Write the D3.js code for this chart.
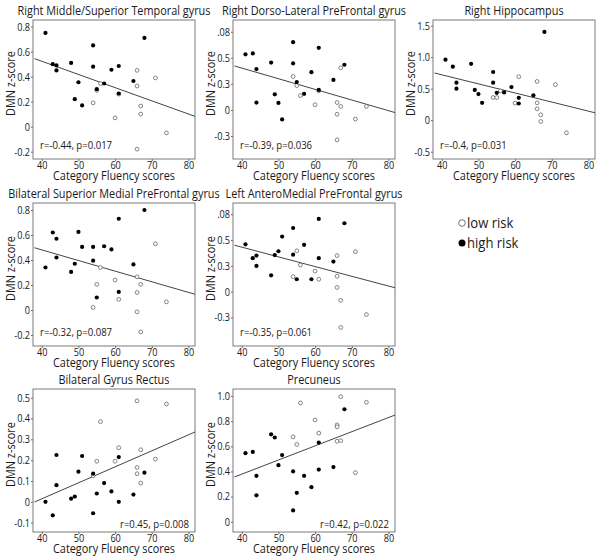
<!DOCTYPE html>
<html>
<head>
<meta charset="utf-8">
<script src="https://cdn.jsdelivr.net/npm/d3@7"></script>
<style>
  body { margin: 0; background: #fff; }
  text { font-family: "Open Sans", "Noto Sans", sans-serif; fill: #1a1a1a; }
</style>
</head>
<body>
<script>
// subjects (category fluency score), same for every region
var highX = [41, 43, 44, 44, 48, 49, 50, 51, 54, 54, 55, 57, 59, 61, 61, 65, 68];
var lowX = [54, 55, 56, 60, 61, 66, 66, 66, 67, 67, 71, 74];

var titles = ["Right Middle/Superior Temporal gyrus", "Right Dorso-Lateral PreFrontal gyrus", "Right Hippocampus",
    "Bilateral Superior Medial PreFrontal gyrus", "Left AnteroMedial PreFrontal gyrus",
    "Bilateral Gyrus Rectus", "Precuneus"];
var stats = ["r=-0.44, p=0.017", "r=-0.39, p=0.036", "r=-0.4, p=0.031", "r=-0.32, p=0.087",
    "r=-0.35, p=0.061", "r=0.45, p=0.008", "r=0.42, p=0.022"];

// DMN z-scores, high risk (order of highX) and low risk (order of lowX)
var highY = [
    [0.75, 0.50, 0.49, 0.45, 0.51, 0.22, 0.355, 0.17, 0.65, 0.48, 0.30, 0.345, 0.455, 0.485, 0.265, 0.365, 0.71],
    [0.64, 0.65, 0.47, 0.085, 0.545, 0.18, 0.08, -0.11, 0.78, 0.535, 0.32, 0.185, 0.435, 0.715, 0.23, 0.345, 0.52],
    [0.96, 0.85, 0.595, 0.50, 0.895, 0.48, 0.415, 0.275, 0.765, 0.595, 0.435, 0.44, 0.525, 0.355, 0.265, 0.395, 1.40],
    [0.34, 0.62, 0.57, 0.42, 0.305, 0.37, 0.625, 0.505, 0.505, 0.395, 0.10, 0.51, 0.485, 0.73, 0.145, 0.365, 0.80],
    [0.55, 0.39, 0.42, 0.30, 0.19, 0.425, 0.47, 0.64, 0.74, 0.43, 0.145, 0.545, 0.145, 0.845, 0.39, 0.35, 0.795],
    [0.0, -0.065, 0.225, 0.08, 0.015, 0.025, 0.145, 0.22, 0.135, -0.055, 0.04, 0.09, 0.05, 0.215, 0.0, 0.035, 0.14],
    [0.545, 0.555, 0.365, 0.21, 0.695, 0.67, 0.45, 0.53, 0.40, 0.09, 0.23, 0.365, 0.275, 0.63, 0.415, 0.435, 0.895]
];
var lowY = [
    [0.19, 0.29, 0.345, 0.07, 0.26, 0.45, 0.325, -0.18, 0.165, 0.10, 0.39, -0.05],
    [0.385, 0.28, 0.165, 0.06, 0.22, 0.085, -0.05, -0.345, 0.485, 0.04, -0.105, 0.04],
    [0.36, 0.36, 0.465, 0.27, 0.69, 0.615, 0.275, 0.18, 0.085, -0.02, 0.565, -0.20],
    [0.02, 0.205, 0.34, 0.24, 0.085, 0.265, 0.14, -0.015, 0.205, -0.175, 0.53, 0.065],
    [0.175, 0.475, 0.31, 0.24, 0.145, 0.42, 0.18, 0.05, -0.10, -0.415, 0.465, -0.265],
    [0.125, 0.195, 0.385, 0.195, 0.26, 0.485, 0.165, 0.135, 0.25, 0.09, 0.205, 0.47],
    [0.675, 0.615, 0.945, 0.81, 0.705, 0.77, 0.755, 0.64, 0.995, 0.645, 0.39, 0.95]
];

// fitted line: z-score at fluency 38 and at 82
var fitX = [38, 82];
var fitY = [[0.544, 0.080], [0.506, -0.033], [0.749, 0.115], [0.498, 0.124],
    [0.540, 0.044], [-0.001, 0.337], [0.356, 0.851]];

var xTicks = [40, 50, 60, 70, 80];
var yTicks = [
    [-0.2, 0, 0.2, 0.4, 0.6, 0.8],
    [-0.3, 0, 0.3, 0.6, 0.9],
    [-0.5, 0, 0.5, 1.0, 1.5],
    [-0.2, 0, 0.2, 0.4, 0.6, 0.8],
    [-0.3, 0, 0.3, 0.6, 0.9],
    [-0.1, 0, 0.1, 0.2, 0.3, 0.4, 0.5],
    [0, 0.2, 0.4, 0.6, 0.8, 1.0]
];
var yTickLabels = [
    ["-0.2", "0", "0.2", "0.4", "0.6", "0.8"],
    ["-0.3", "0", "0.3", "0.5", ".08"],
    ["-0.5", "0", "0.5", "1.0", "1.5"],
    ["-0.2", "0", "0.2", "0.4", "0.6", "0.8"],
    ["-0.3", "0", "0.3", "0.5", ".08"],
    ["-0.1", "0", "0.1", "0.2", "0.3", "0.4", "0.5"],
    ["0", "0.2", "0.4", "0.6", "0.8", "1.0"]
];
var yDomains = [[-0.259, 0.853], [-0.565, 1.035], [-0.616, 1.59], [-0.288, 0.856],
    [-0.63, 1.03], [-0.145, 0.542], [-0.082, 1.056]];

// layout
var W = 601, H = 557;
var colLeft = [33, 233, 433], plotW = 162;
var rowTop = [20, 203, 389], rowH = [139, 143, 143];
var cells = [[0, 0], [1, 0], [2, 0], [0, 1], [1, 1], [0, 2], [1, 2]];

var svg = d3.select("body").append("svg")
    .attr("width", W)
    .attr("height", H);

var xScale = d3.scaleLinear().domain([37.6, 81.8]).range([0, plotW]);

cells.forEach(function (c, i) {
    var h = rowH[c[1]];
    var g = svg.append("g")
        .attr("transform", "translate(" + colLeft[c[0]] + "," + rowTop[c[1]] + ")");

    var yScale = d3.scaleLinear().domain(yDomains[i]).range([h, 0]);

    g.append("clipPath").attr("id", "clip" + i)
        .append("rect").attr("width", plotW).attr("height", h);

    // axes
    var xa = g.append("g")
        .attr("transform", "translate(0," + h + ")")
        .call(d3.axisBottom(xScale).tickValues(xTicks).tickSize(2).tickPadding(1).tickFormat(d3.format("d")));
    var labels = yTickLabels[i];
    var ya = g.append("g")
        .call(d3.axisLeft(yScale).tickValues(yTicks[i]).tickSize(2).tickPadding(1)
            .tickFormat(function (d, k) { return labels[k]; }));
    [xa, ya].forEach(function (a) {
        a.select(".domain").remove();
        a.selectAll("line").attr("stroke", "#666");
        a.selectAll("text").style("font-size", "10.5px").attr("fill", "#1a1a1a");
    });

    // frame
    g.append("rect")
        .attr("width", plotW).attr("height", h)
        .attr("fill", "none").attr("stroke", "#7a7a7a").attr("stroke-width", 1);

    // regression line
    g.append("line")
        .attr("clip-path", "url(#clip" + i + ")")
        .attr("x1", xScale(fitX[0])).attr("y1", yScale(fitY[i][0]))
        .attr("x2", xScale(fitX[1])).attr("y2", yScale(fitY[i][1]))
        .attr("stroke", "#444").attr("stroke-width", 1);

    // low risk, open circles
    g.selectAll(".lo").data(lowY[i]).enter().append("circle")
        .attr("cx", function (d, k) { return xScale(lowX[k]); })
        .attr("cy", function (d) { return yScale(d); })
        .attr("r", 1.9)
        .attr("fill", "#fff").attr("stroke", "#666").attr("stroke-width", 0.8);

    // high risk, filled
    g.selectAll(".hi").data(highY[i]).enter().append("circle")
        .attr("cx", function (d, k) { return xScale(highX[k]); })
        .attr("cy", function (d) { return yScale(d); })
        .attr("r", 2.1)
        .attr("fill", "#000");

    // title and axis labels
    g.append("text")
        .attr("x", plotW / 2).attr("y", -5)
        .attr("text-anchor", "middle")
        .style("font-size", "12.5px")
        .text(titles[i]);
    g.append("text")
        .attr("x", plotW / 2).attr("y", h + 21)
        .attr("text-anchor", "middle")
        .style("font-size", "12.5px")
        .text("Category Fluency scores");
    g.append("text")
        .attr("transform", "translate(-18," + (h / 2 - 6) + ") rotate(-90)")
        .attr("text-anchor", "middle")
        .style("font-size", "12.5px")
        .text("DMN z-score");

    // stats
    var bottomRow = c[1] == 2;
    g.append("text")
        .attr("x", bottomRow ? plotW - 6 : 7)
        .attr("y", bottomRow ? h - 4 : h - 10)
        .attr("text-anchor", bottomRow ? "end" : "start")
        .style("font-size", "11px")
        .text(stats[i]);
});

// legend
var legend = svg.append("g").attr("transform", "translate(462,223)");
legend.append("circle").attr("r", 3.3).attr("fill", "#fff").attr("stroke", "#555").attr("stroke-width", 0.8);
legend.append("text").attr("x", 5).attr("y", 5).style("font-size", "15px").text("low risk");
legend.append("circle").attr("cy", 20).attr("r", 3.5).attr("fill", "#000");
legend.append("text").attr("x", 5).attr("y", 25).style("font-size", "15px").text("high risk");

// the original face is narrower than Open Sans: squeeze every text a little
svg.selectAll("text").each(function () {
    var w = this.getComputedTextLength();
    d3.select(this).attr("textLength", w * 0.87).attr("lengthAdjust", "spacingAndGlyphs");
});
</script>
</body>
</html>
